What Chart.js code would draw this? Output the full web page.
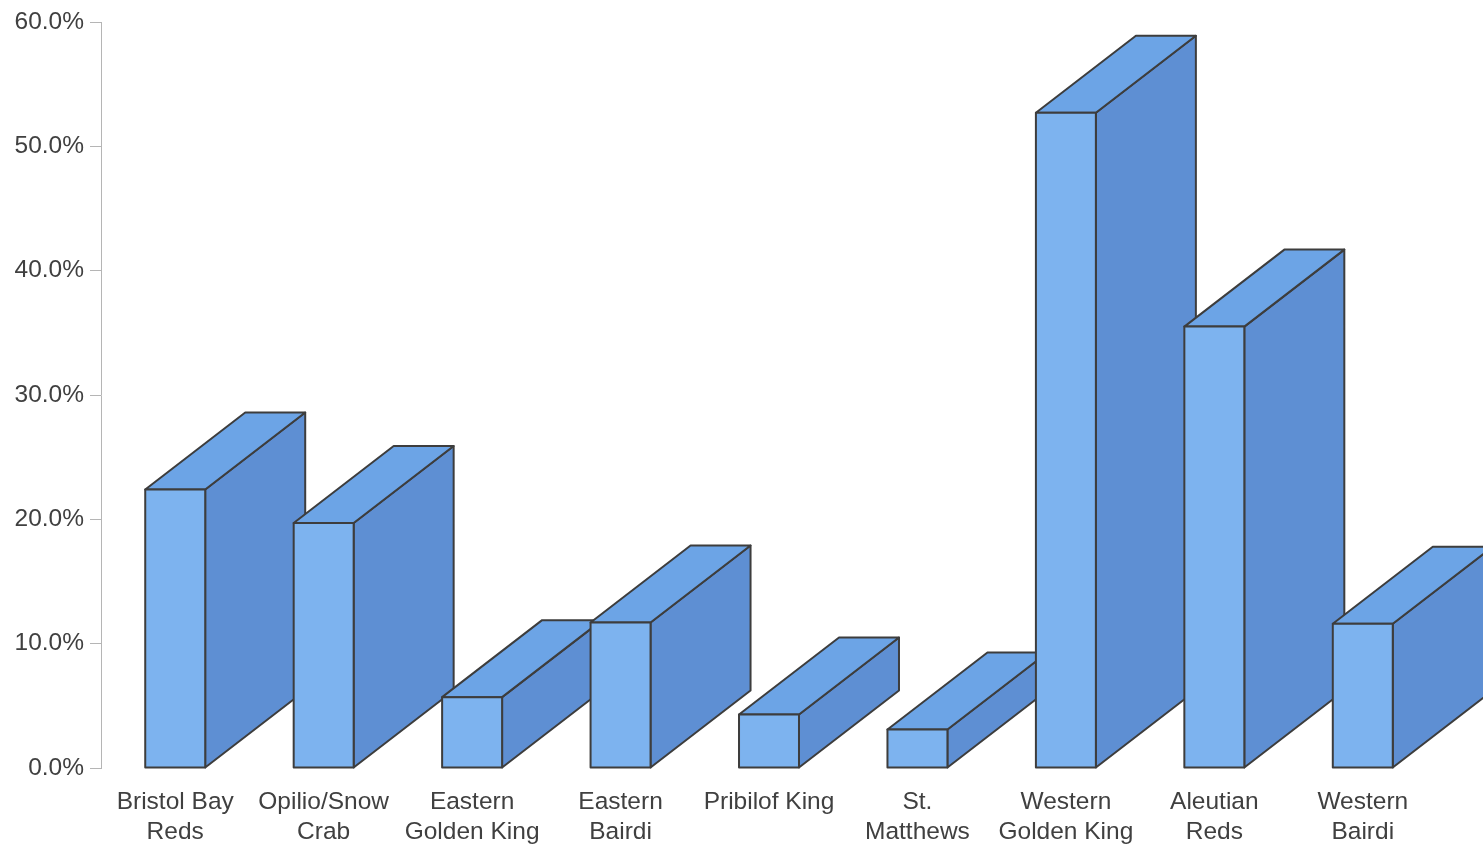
<!DOCTYPE html>
<html>
<head>
<meta charset="utf-8">
<title>Crab fisheries</title>
<script src="https://cdn.jsdelivr.net/npm/chart.js@4.4.0/dist/chart.umd.min.js"></script>
<style>
  html, body { margin: 0; padding: 0; background: #fff; }
  canvas { display: block; }
</style>
</head>
<body>
<canvas id="chart" width="1483" height="846"></canvas>
<script>
// fisheries and their share (%)
let fisheries = [
  ["Bristol Bay", "Reds"],
  ["Opilio/Snow", "Crab"],
  ["Eastern", "Golden King"],
  ["Eastern", "Bairdi"],
  "Pribilof King",
  ["St.", "Matthews"],
  ["Western", "Golden King"],
  ["Aleutian", "Reds"],
  ["Western", "Bairdi"]
];
let shares = [22.4, 19.7, 5.7, 11.7, 4.3, 3.1, 52.7, 35.5, 11.6];
let yTicks = [0, 10, 20, 30, 40, 50, 60];

let frontColor = "#7db3ef";
let sideColor = "#5e8fd3";
let topColor = "#6ca4e6";
let edgeColor = "#3d3d3d";
let depthX = 100, depthY = 77;
let font = "'Liberation Sans', Arial, sans-serif";

function poly(ctx, pts, fill) {
  ctx.beginPath();
  ctx.moveTo(pts[0][0], pts[0][1]);
  for (let i = 1; i < pts.length; i++) ctx.lineTo(pts[i][0], pts[i][1]);
  ctx.closePath();
  ctx.fillStyle = fill;
  ctx.fill();
  ctx.stroke();
}

// draws each bar as a box: side, top, then front, left to right
const box3d = {
  id: "box3d",
  afterDatasetsDraw(chart) {
    let ctx = chart.ctx;
    let meta = chart.getDatasetMeta(0);
    ctx.save();
    ctx.lineWidth = 2;
    ctx.lineJoin = "round";
    ctx.strokeStyle = edgeColor;
    meta.data.forEach(bar => {
      let p = bar.getProps(["x", "y", "base", "width"], true);
      let l = p.x - p.width / 2, r = p.x + p.width / 2;
      let top = p.y, bot = p.base;
      poly(ctx, [[r, top], [r + depthX, top - depthY], [r + depthX, bot - depthY], [r, bot]], sideColor);
      poly(ctx, [[l, top], [l + depthX, top - depthY], [r + depthX, top - depthY], [r, top]], topColor);
      poly(ctx, [[l, top], [r, top], [r, bot], [l, bot]], frontColor);
    });
    ctx.restore();
  }
};

new Chart(document.getElementById("chart").getContext("2d"), {
  type: "bar",
  data: {
    labels: fisheries,
    datasets: [{
      data: shares,
      backgroundColor: frontColor,
      borderColor: edgeColor,
      borderWidth: 0,
      barPercentage: 0.404,
      categoryPercentage: 1
    }]
  },
  options: {
    responsive: false,
    animation: false,
    layout: { padding: { top: 22, right: 46, left: 0, bottom: 0 } },
    plugins: { legend: { display: false }, tooltip: { enabled: false } },
    scales: {
      x: {
        grid: { display: false, drawTicks: false },
        border: { display: false },
        ticks: {
          color: "#404040",
          padding: 19,
          maxRotation: 0,
          autoSkip: false,
          font: { family: font, size: 24.5, lineHeight: 1.224 }
        },
        afterFit(scale) { scale.height = 78; }
      },
      y: {
        min: 0,
        max: 60,
        afterBuildTicks(scale) { scale.ticks = yTicks.map(v => ({ value: v })); },
        grid: { drawOnChartArea: false, tickLength: 11, color: "#b5b5b5" },
        border: { color: "#b5b5b5", width: 1 },
        ticks: {
          color: "#404040",
          padding: 6,
          font: { family: font, size: 24.5 },
          callback: v => v.toFixed(1) + "%"
        },
        afterFit(scale) { scale.width = 101; }
      }
    }
  },
  plugins: [box3d]
});
</script>
</body>
</html>
